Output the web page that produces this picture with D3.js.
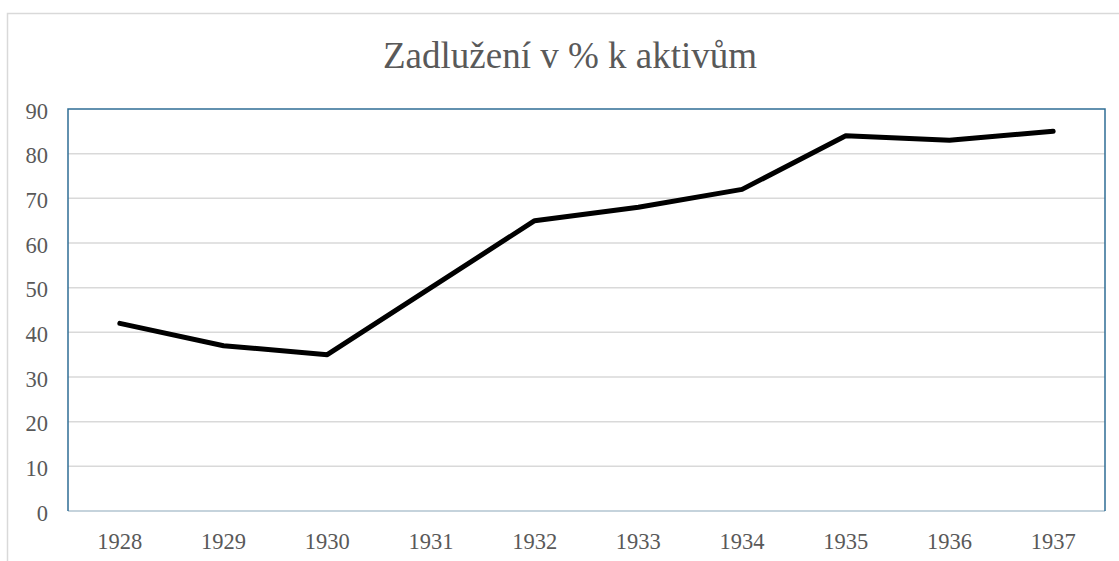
<!DOCTYPE html>
<html>
<head>
<meta charset="utf-8">
<script src="https://cdn.jsdelivr.net/npm/d3@7"></script>
<style>
    body { margin: 0; background: #fff; }
    svg { display: block; }
    .serif, .serif text { font-family: "Liberation Serif", Tinos, "Times New Roman", Times, serif !important; }
</style>
</head>
<body>
<svg id="chart" class="serif" width="1119" height="561"></svg>
<script>
var ChartTitle = "Zadlužení v % k aktivům";
var Years = ["1928", "1929", "1930", "1931", "1932", "1933", "1934", "1935", "1936", "1937"];
var DebtValues = [42, 37, 35, 50, 65, 68, 72, 84, 83, 85];
var YTicks = [0, 10, 20, 30, 40, 50, 60, 70, 80, 90];

var svg = d3.select("#chart");
var Left = 68, Right = 1105, Top = 109, Bottom = 511;

// outer chart frame (cut off on right and bottom)
svg.append("rect")
    .attr("x", 7.5).attr("y", 13.5)
    .attr("width", 1130).attr("height", 600)
    .style("fill", "none")
    .style("stroke", "#d9d9d9")
    .style("stroke-width", 1.5);

svg.append("text")
    .attr("class", "serif")
    .attr("x", 570).attr("y", 68)
    .attr("text-anchor", "middle")
    .style("font-size", "37px")
    .style("fill", "#595959")
    .text(ChartTitle);

var x = d3.scaleBand().domain(Years).range([Left, Right]).padding(0);
var y = d3.scaleLinear().domain([0, 90]).range([Bottom, Top]);

// gridlines
svg.append("g")
    .selectAll("line")
    .data(YTicks.slice(1, -1))
    .enter().append("line")
    .attr("x1", Left).attr("x2", Right)
    .attr("y1", function(d){ return y(d); })
    .attr("y2", function(d){ return y(d); })
    .style("stroke", "#d9d9d9")
    .style("stroke-width", 1.5);

// y axis labels
var yAxis = d3.axisLeft(y).tickValues(YTicks).tickSize(0).tickPadding(20);
var gy = svg.append("g").attr("transform", "translate(" + Left + ",0)").call(yAxis);
gy.attr("font-family", null);
gy.select(".domain").remove();
gy.selectAll("text")
    .attr("dy", "0.4em")
    .style("font-size", "22.5px")
    .style("fill", "#595959");

// x axis labels
var xAxis = d3.axisBottom(x).tickSize(0).tickPadding(22);
var gx = svg.append("g").attr("transform", "translate(0," + Bottom + ")").call(xAxis);
gx.attr("font-family", null);
gx.select(".domain").remove();
gx.selectAll("text")
    .style("font-size", "22.5px")
    .style("fill", "#595959");

// plot area border
svg.append("line")
    .attr("x1", Left).attr("x2", Right)
    .attr("y1", Bottom).attr("y2", Bottom)
    .style("stroke", "#c5d3dc")
    .style("stroke-width", 2);
svg.append("path")
    .attr("d", "M" + Left + "," + Bottom + "V" + Top + "H" + Right + "V" + Bottom)
    .style("fill", "none")
    .style("stroke", "#2f6e95")
    .style("stroke-width", 1.5);

var line = d3.line()
    .x(function(d, i){ return x(Years[i]) + x.bandwidth() / 2; })
    .y(function(d){ return y(d); });

svg.append("path")
    .datum(DebtValues)
    .attr("d", line)
    .style("fill", "none")
    .style("stroke", "#000")
    .style("stroke-width", 5)
    .style("stroke-linecap", "round")
    .style("stroke-linejoin", "round");
</script>
</body>
</html>
